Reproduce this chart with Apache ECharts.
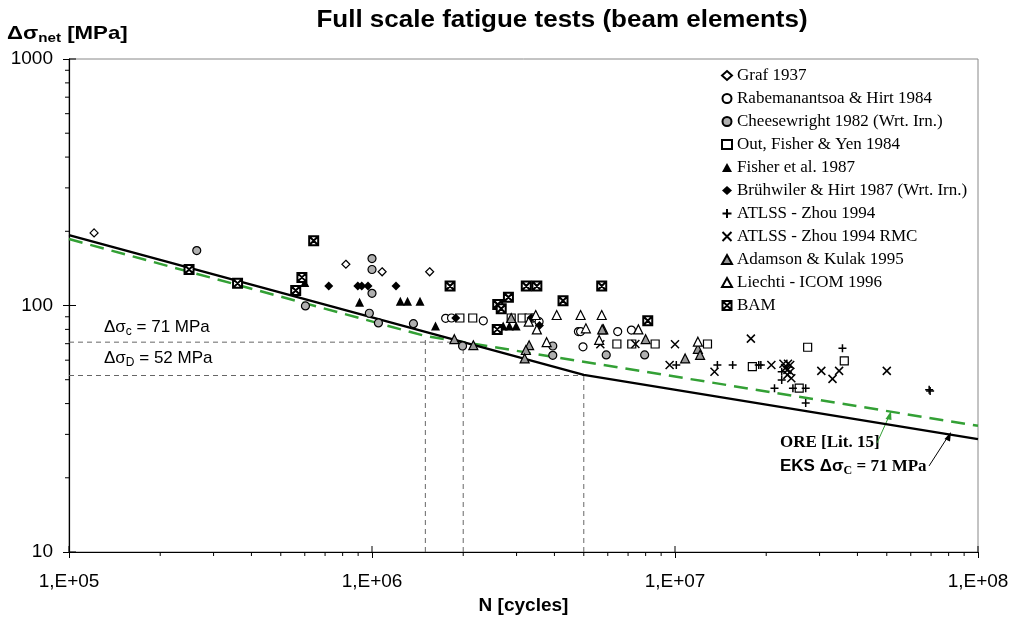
<!DOCTYPE html>
<html><head><meta charset="utf-8">
<script src="https://cdn.jsdelivr.net/npm/echarts@6/dist/echarts.min.js"></script>
<style>html,body{margin:0;padding:0;background:#fff}#c{width:1012px;height:631px}</style>
</head><body><div id="c"></div>
<script>
// ---- tick labels ----
const xTickLabels = ['1,E+05','1,E+06','1,E+07','1,E+08'];
const yTickLabels = ['10','100','1000'];

// ---- design curves [N, stress] ----
const eksCurve = [[1e5,193],[2e6,71],[5e6,52.3],[1e8,28.7]];
const oreCurve = [[1e5,186],[1.5e6,75.2],[1e8,32.5]];
const refLines = [
  [[1e5,71],[2e6,71]],
  [[1e5,52],[5e6,52]],
  [[1.5e6,10],[1.5e6,75.2]],
  [[2e6,10],[2e6,71]],
  [[5e6,10],[5e6,52.3]]
];

// ---- test series [N, stress range] ----
const graf = [[1.21e5,197],[8.2e5,147],[1.08e6,137],[1.55e6,137]];
const rabem = [[1.75e6,88.7],[1.83e6,89],[2.33e6,86.7],[3.4e6,89],[3.56e6,86],[4.8e6,78.4],[4.88e6,78.4],[4.97e6,68],[6.47e6,78.4],[7.18e6,79.5]];
const cheese = [[2.64e5,167],[6.03e5,99.6],[1.0e6,155],[1.0e6,140],[1.0e6,112],[9.8e5,93],[1.05e6,85],[1.37e6,84.4],[1.99e6,68.5],[3.95e6,68.5],[3.95e6,62.8],[5.93e6,63],[7.94e6,63]];
const outFY = [[1.95e6,89],[2.15e6,89],[2.88e6,89],[3.13e6,89],[3.3e6,89],[6.43e6,69.8],[7.2e6,69.8],[8.6e6,69.8],[1.28e7,69.8],[1.8e7,56.5],[2.57e7,46.2],[2.74e7,67.7],[3.62e7,59.6]];
const fisher = [[6.0e5,124],[9.1e5,103],[1.24e6,104],[1.31e6,104],[1.44e6,104],[1.62e6,82.6],[2.71e6,82.6],[2.84e6,82.6],[2.99e6,82.6]];
const bruh = [[7.2e5,120],[8.98e5,120],[9.25e5,120],[9.7e5,120],[1.2e6,120],[1.89e6,89],[3.35e6,89],[3.57e6,83]];
const zhou = [[1.01e7,57.4],[1.38e7,57.4],[1.55e7,57.4],[1.89e7,57.4],[1.92e7,57.4],[2.25e7,53.9],[2.25e7,49.9],[2.13e7,46.2],[2.45e7,46.2],[2.7e7,46.2],[2.7e7,40.2],[3.57e7,67.1],[6.9e7,45.5],[6.95e7,45]];
const zhouRmc = [[5.67e6,69.6],[7.4e6,69.8],[1.0e7,69.6],[9.6e6,57.4],[1.35e7,53.9],[1.78e7,73.4],[2.08e7,57.4],[2.28e7,58],[2.36e7,58],[2.4e7,57.4],[2.31e7,55.7],[2.35e7,54.8],[2.4e7,53.9],[2.35e7,52.3],[2.42e7,50.7],[3.04e7,54.3],[3.48e7,54.3],[3.31e7,50.4],[5.0e7,54.3]];
const adamson = [[1.87e6,73],[2.16e6,69],[3.3e6,69],[3.22e6,66],[3.19e6,61],[2.88e6,89],[5.8e6,80],[5.75e6,80],[8.0e6,73],[1.08e7,61],[1.19e7,66.7],[1.21e7,63]];
const liechti = [[3.47e6,91.5],[3.29e6,86],[3.5e6,80],[3.77e6,71],[4.07e6,91.5],[4.88e6,91.5],[5.73e6,91.5],[5.08e6,80.8],[5.62e6,72.5],[7.57e6,80],[1.19e7,71.3]];
const bam = [[2.49e5,140],[3.6e5,123],[6.42e5,183],[5.87e5,130],[5.6e5,115],[1.81e6,120],[2.59e6,80],[2.6e6,101],[2.67e6,97],[2.82e6,108],[3.23e6,120],[3.5e6,120],[4.27e6,104.6],[5.73e6,120],[8.13e6,86.7]];

const seriesNames = ['Graf 1937','Rabemanantsoa & Hirt 1984','Cheesewright 1982 (Wrt. Irn.)','Out, Fisher & Yen 1984','Fisher et al. 1987','Brühwiler & Hirt 1987 (Wrt. Irn.)','ATLSS - Zhou 1994','ATLSS - Zhou 1994 RMC','Adamson & Kulak 1995','Liechti - ICOM 1996','BAM'];

const PLUS = 'path://M5,0L5,10M0,5L10,5';
const CROSS = 'path://M0,0L10,10M10,0L0,10';
const BOXX = 'path://M0,0L10,0L10,10L0,10ZM0,0L10,10M10,0L0,10';

const styles = [
  {data: graf, symbol:'diamond', size:8, fill:'#fff', bw:1.2},
  {data: rabem, symbol:'circle', size:8, fill:'#fff', bw:1.2},
  {data: cheese, symbol:'circle', size:8, fill:'#b0b0b0', bw:1.2},
  {data: outFY, symbol:'rect', size:8, fill:'#fff', bw:1.2},
  {data: fisher, symbol:'triangle', size:9, fill:'#000', bw:0},
  {data: bruh, symbol:'diamond', size:9, fill:'#000', bw:0},
  {data: zhou, symbol:PLUS, size:8, fill:'transparent', bw:1.5},
  {data: zhouRmc, symbol:CROSS, size:8, fill:'transparent', bw:1.5},
  {data: adamson, symbol:'triangle', size:9, fill:'#999', bw:1.2},
  {data: liechti, symbol:'triangle', size:9, fill:'#fff', bw:1.2},
  {data: bam, symbol:BOXX, size:9, fill:'#fff', bw:2}
];

// minor tick positions (2..9 per decade)
const minorX = [], minorY = [];
for (let e = 5; e < 8; e++) for (let k = 2; k <= 9; k++) minorX.push(k * Math.pow(10, e));
for (let e = 1; e < 3; e++) for (let k = 2; k <= 9; k++) minorY.push(k * Math.pow(10, e));
const majorX = [1e5,1e6,1e7,1e8], majorY = [10,100,1000];

const chart = echarts.init(document.getElementById('c'));
const series = [];

refLines.forEach(seg => series.push({
  type:'line', data: seg, symbol:'none', silent:true, z:1,
  lineStyle:{color:'#666', width:1, type:[5,4]}
}));
series.push({type:'line', name:'ORE', data: oreCurve, symbol:'none', z:3,
  lineStyle:{color:'#33a035', width:2.5, type:[14,8]}});
series.push({type:'line', name:'EKS', data: eksCurve, symbol:'none', z:3,
  lineStyle:{color:'#000', width:2.5}});

styles.forEach((s, i) => series.push({
  type:'scatter', name: seriesNames[i], data: s.data, symbol: s.symbol, symbolSize: s.size, z:5,
  itemStyle:{color: s.fill, borderColor:'#000', borderWidth: s.bw, opacity:1}
}));

const tickKinds = minorX.map(() => 'mx').concat(minorY.map(() => 'my'), majorX.map(() => 'Mx'), majorY.map(() => 'My'));
series.push({
  type:'custom', silent:true, clip:false, z:6,
  data: minorX.concat(minorY, majorX, majorY).map(v => [v]),
  encode:{x:0},
  renderItem: function (params, api) {
    const v = api.value(0);
    const k = tickKinds[params.dataIndex];
    let p, shape;
    if (k === 'mx') { p = api.coord([v, 10]); shape = {x1:p[0], y1:p[1], x2:p[0], y2:p[1]+4}; }
    else if (k === 'my') { p = api.coord([1e5, v]); shape = {x1:p[0]-4, y1:p[1], x2:p[0], y2:p[1]}; }
    else if (k === 'Mx') { p = api.coord([v, 10]); shape = {x1:p[0], y1:p[1], x2:p[0], y2:p[1]-6}; }
    else { p = api.coord([1e5, v]); shape = {x1:p[0], y1:p[1], x2:p[0]+7, y2:p[1]}; }
    return {type:'line', shape: shape, style:{stroke:'#000', lineWidth:1}};
  }
});

chart.setOption({
  animation:false,
  backgroundColor:'#fff',
  grid:{left:69, right:34, top:59, bottom:79, show:true, borderColor:'#888', borderWidth:1, backgroundColor:'transparent'},
  legend:{
    orient:'vertical', left:716, top:62, itemWidth:10, itemHeight:9, itemGap:6,
    data: seriesNames,
    textStyle:{fontFamily:'Liberation Serif', fontSize:17, color:'#000', lineHeight:17},
    selectedMode:false
  },
  xAxis:{
    type:'log', logBase:10, min:1e5, max:1e8,
    axisLine:{show:true, onZero:false, lineStyle:{color:'#000', width:1.2}},
    axisTick:{show:true, inside:false, length:6, lineStyle:{color:'#000'}},
    splitLine:{show:false},
    axisLabel:{margin:20, fontFamily:'Liberation Sans', fontSize:19, color:'#000',
      formatter: v => xTickLabels[Math.round(Math.log10(v)) - 5]},
    name:'N [cycles]', nameLocation:'middle', nameGap:40,
    nameTextStyle:{fontFamily:'Liberation Sans', fontWeight:'bold', fontSize:19, color:'#000'}
  },
  yAxis:{
    type:'log', logBase:10, min:10, max:1000,
    axisLine:{show:true, onZero:false, lineStyle:{color:'#000', width:1.2}},
    axisTick:{show:true, inside:false, length:6, lineStyle:{color:'#000'}},
    splitLine:{show:false},
    axisLabel:{margin:16, fontFamily:'Liberation Sans', fontSize:19, color:'#000',
      formatter: v => yTickLabels[Math.round(Math.log10(v)) - 1]}
  },
  graphic:[
    {type:'text', x:562, y:21, scaleX:1.13, style:{text:'Full scale fatigue tests (beam elements)', align:'center', verticalAlign:'middle',
      fontFamily:'Liberation Sans', fontWeight:'bold', fontSize:23, fill:'#000'}},
    {type:'text', x:7, y:34, scaleX:1.17, style:{
      text:'{a|Δσ}{s|net}{a| [MPa]}', verticalAlign:'middle',
      rich:{a:{fontFamily:'Liberation Sans', fontWeight:'bold', fontSize:19, fill:'#000'},
            s:{fontFamily:'Liberation Sans', fontWeight:'bold', fontSize:13, fill:'#000', padding:[9,0,0,0]}}}},
    {type:'text', left:104, top:319, style:{
      text:'{a|Δσ}{s|c}{a| = 71 MPa}',
      rich:{a:{fontFamily:'Liberation Sans', fontSize:17, fill:'#000'},
            s:{fontFamily:'Liberation Sans', fontSize:12, fill:'#000', padding:[8,0,0,0]}}}},
    {type:'text', left:104, top:350, style:{
      text:'{a|Δσ}{s|D}{a| = 52 MPa}',
      rich:{a:{fontFamily:'Liberation Sans', fontSize:17, fill:'#000'},
            s:{fontFamily:'Liberation Sans', fontSize:12, fill:'#000', padding:[8,0,0,0]}}}},
    {type:'text', left:780, top:434, style:{text:'ORE [Lit. 15]', fontFamily:'Liberation Serif', fontWeight:'bold', fontSize:17, fill:'#000'}},
    {type:'text', left:780, top:458, style:{
      text:'{a|EKS Δσ}{s|C}{b| = 71 MPa}',
      rich:{a:{fontFamily:'Liberation Sans', fontWeight:'bold', fontSize:17, fill:'#000'},
            s:{fontFamily:'Liberation Serif', fontWeight:'bold', fontSize:12, fill:'#000', padding:[8,0,0,0]},
            b:{fontFamily:'Liberation Serif', fontWeight:'bold', fontSize:17, fill:'#000'}}}},
    {type:'line', shape:{x1:877, y1:443, x2:890, y2:414}, style:{stroke:'#33a035', lineWidth:1}},
    {type:'polygon', shape:{points:[[891,411],[885.5,419],[891.5,420]]}, style:{fill:'#33a035'}},
    {type:'line', shape:{x1:929, y1:466, x2:949, y2:435}, style:{stroke:'#000', lineWidth:1}},
    {type:'polygon', shape:{points:[[951,432],[944.5,439],[950,441.5]]}, style:{fill:'#000'}}
  ],
  series: series
});
</script></body></html>
